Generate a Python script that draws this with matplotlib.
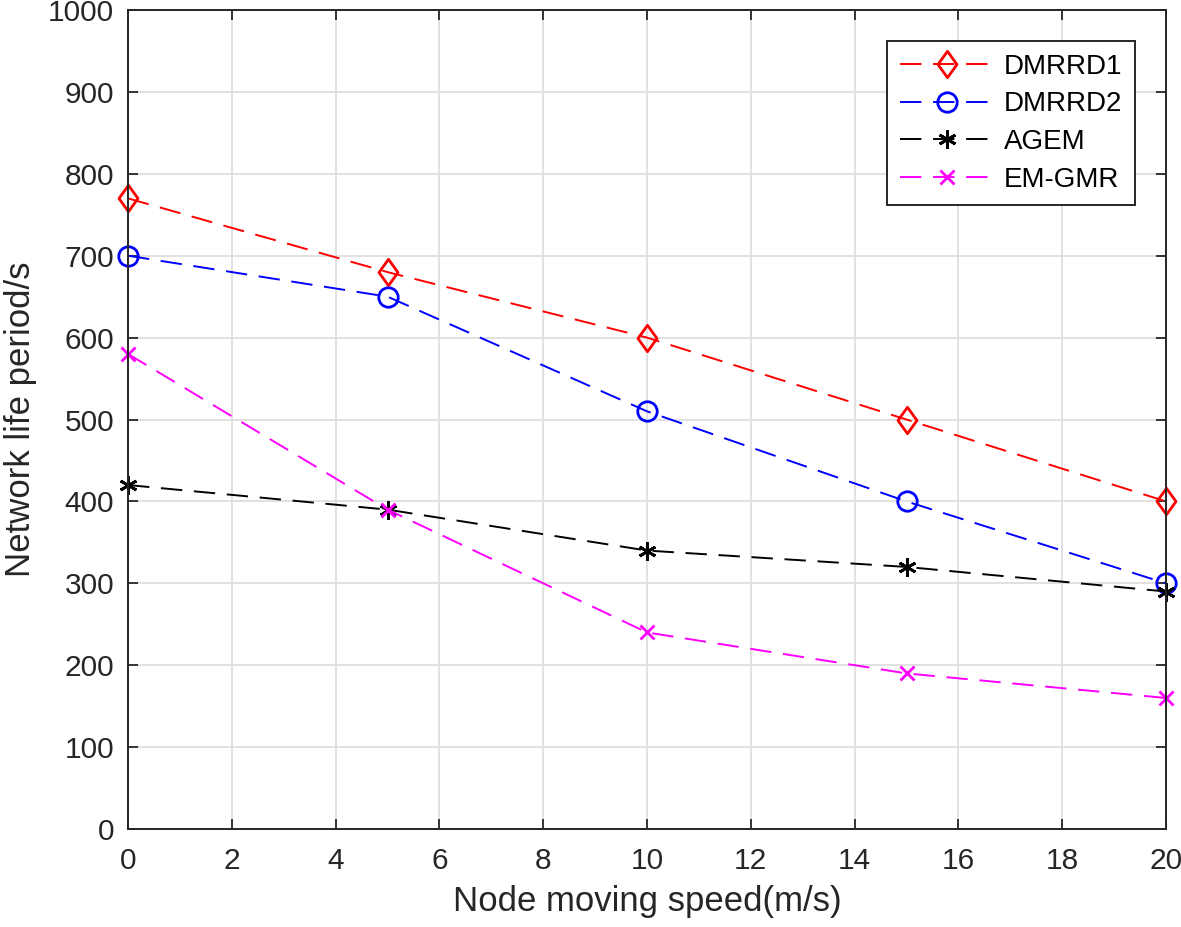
import matplotlib.pyplot as plt
from matplotlib.path import Path
import numpy as np

plt.rcParams['font.family'] = ['Liberation Sans', 'DejaVu Sans']

speed = [0, 5, 10, 15, 20]
dmrrd1 = [770, 680, 600, 500, 400]
dmrrd2 = [700, 650, 510, 400, 300]
agem = [420, 390, 340, 320, 290]
emgmr = [580, 390, 240, 190, 160]

# matlab style diamond (wider than mpl 'd')
diamond = Path([(0, 1), (0.72, 0), (0, -1), (-0.72, 0), (0, 1)],
               [Path.MOVETO, Path.LINETO, Path.LINETO, Path.LINETO, Path.CLOSEPOLY])

fig = plt.figure(figsize=(11.81, 9.27), dpi=100)
ax = fig.add_axes([0.1084, 0.1057, 0.8789, 0.8835])

dash = (0, (11, 6))
lw = 1.4
ax.plot(speed, dmrrd1, color='red', linestyle=dash, lw=lw, marker=diamond, ms=19,
        mfc='none', mew=2, label='DMRRD1', clip_on=False)
ax.plot(speed, dmrrd2, color='blue', linestyle=dash, lw=lw, marker='o', ms=14,
        mfc='none', mew=2, label='DMRRD2', clip_on=False)
ax.plot(speed, agem, color='black', linestyle=dash, lw=lw, marker=(6, 2, 0), ms=13,
        mew=2, label='AGEM', clip_on=False)
ax.plot(speed, emgmr, color='magenta', linestyle=dash, lw=lw, marker='x', ms=10,
        mew=2, label='EM-GMR', clip_on=False)

ax.set_xlim(0, 20)
ax.set_ylim(0, 1000)
ax.set_xticks(np.arange(0, 21, 2))
ax.set_yticks(np.arange(0, 1001, 100))
ax.grid(True, color='#dedede', lw=1.3)
ax.set_axisbelow(True)
ax.tick_params(direction='in', labelsize=21.5, length=7, width=1.3, top=True, right=True,
               colors='#262626')
ax.tick_params(axis='x', pad=13)
ax.tick_params(axis='y', pad=10)
for s in ax.spines.values():
    s.set_linewidth(1.4)
    s.set_color('#262626')

ax.set_xlabel('Node moving speed(m/s)', fontsize=25, color='#262626', labelpad=7)
ax.set_ylabel('Network life period/s', fontsize=25, color='#262626', labelpad=8)

leg = ax.legend(loc='upper right', bbox_to_anchor=(0.97, 0.962), fontsize=20,
                handlelength=3.4, fancybox=False, framealpha=1, edgecolor='#262626',
                borderpad=0.45, labelspacing=0.42, handletextpad=0.35, borderaxespad=0)
leg.get_frame().set_linewidth(1.4)

fig.savefig('out.png', dpi=100)
